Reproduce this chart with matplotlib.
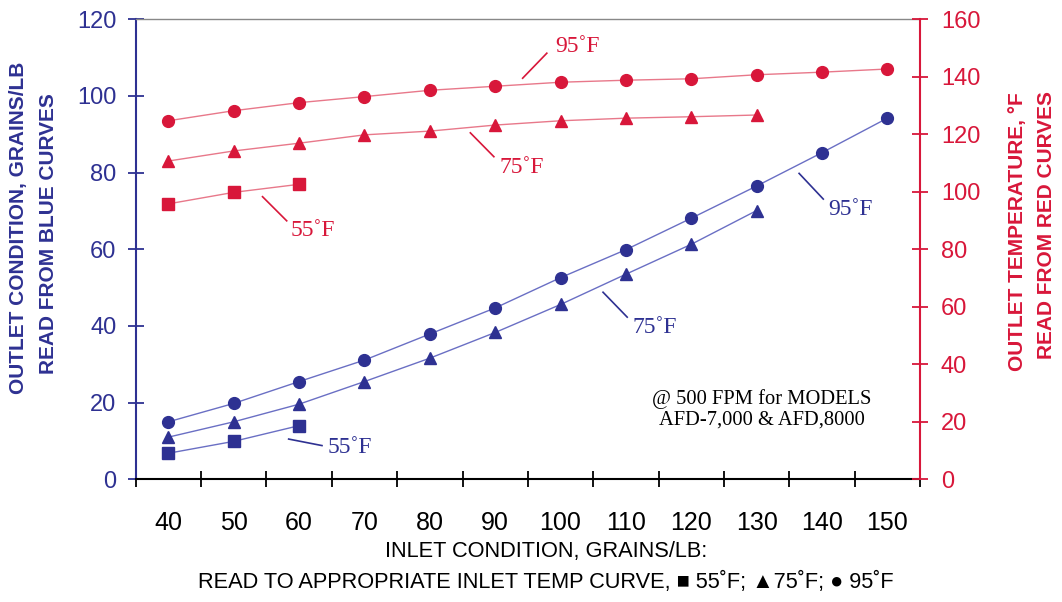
import numpy as np
import matplotlib
matplotlib.use('Agg')
import matplotlib.pyplot as plt

# inlet condition, grains/lb
inlet = [40, 50, 60, 70, 80, 90, 100, 110, 120, 130, 140, 150]

# outlet condition, grains/lb (blue curves, left axis)
grains_95 = [15.0, 19.8, 25.5, 31.1, 37.9, 44.7, 52.6, 59.9, 68.1, 76.5, 85.2, 94.2]
grains_75 = [11.0, 15.0, 19.6, 25.5, 31.6, 38.3, 45.6, 53.5, 61.3, 70.1]
grains_55 = [6.8, 9.9, 14.0]

# outlet temperature, F (red curves, right axis)
temp_95 = [124.7, 128.2, 131.0, 133.1, 135.3, 136.7, 138.1, 138.8, 139.3, 140.7, 141.6, 142.7]
temp_75 = [110.7, 114.2, 116.9, 119.8, 121.1, 123.2, 124.7, 125.6, 126.1, 126.7]
temp_55 = [95.8, 99.8, 102.6]

BLUE = '#2e3192'
BLUE_LN = '#6a6fc4'
RED = '#d8173a'
RED_LN = '#e8788a'
SANS = ['Liberation Sans', 'DejaVu Sans']
SERIF = ['Liberation Serif', 'DejaVu Serif']

fig = plt.figure(figsize=(10.62, 6.02), dpi=100)
ax = fig.add_axes([0.1278, 0.2038, 0.8663 - 0.1278, 0.968 - 0.2038])
ax2 = ax.twinx()

ms = 8.5
# blue curves
ax.plot(inlet, grains_95, color=BLUE_LN, lw=1.0, zorder=2)
ax.plot(inlet, grains_95, 'o', color=BLUE, ms=ms, zorder=3)
ax.plot(inlet[:len(grains_75)], grains_75, color=BLUE_LN, lw=1.0, zorder=2)
ax.plot(inlet[:len(grains_75)], grains_75, '^', color=BLUE, ms=ms, zorder=3)
ax.plot(inlet[:len(grains_55)], grains_55, color=BLUE_LN, lw=1.0, zorder=2)
ax.plot(inlet[:len(grains_55)], grains_55, 's', color=BLUE, ms=ms, zorder=3)

# red curves
ax2.plot(inlet, temp_95, color=RED_LN, lw=1.0, zorder=2)
ax2.plot(inlet, temp_95, 'o', color=RED, ms=ms, zorder=3)
ax2.plot(inlet[:len(temp_75)], temp_75, color=RED_LN, lw=1.0, zorder=2)
ax2.plot(inlet[:len(temp_75)], temp_75, '^', color=RED, ms=ms, zorder=3)
ax2.plot(inlet[:len(temp_55)], temp_55, color=RED_LN, lw=1.0, zorder=2)
ax2.plot(inlet[:len(temp_55)], temp_55, 's', color=RED, ms=ms, zorder=3)

ax.set_xlim(35, 155)
ax.set_ylim(0, 120)
ax2.set_ylim(0, 160)

# axes / spines
ax.spines['right'].set_visible(False)
ax.spines['left'].set_color(BLUE)
ax.spines['left'].set_linewidth(1.5)
ax.spines['bottom'].set_color('black')
ax.spines['bottom'].set_linewidth(1.5)
ax.spines['top'].set_color('#888888')
ax.spines['top'].set_linewidth(1.0)
for s in ['left', 'top', 'bottom']:
    ax2.spines[s].set_visible(False)
ax2.spines['right'].set_color(RED)
ax2.spines['right'].set_linewidth(1.5)

ax.set_xticks(np.arange(35, 156, 10))
ax.set_xticklabels([])
ax.set_xticks(inlet, minor=True)
ax.set_xticklabels([str(v) for v in inlet], minor=True, fontsize=18, family=SANS)
ax.tick_params(axis='x', which='major', direction='inout', length=12, width=1.3, color='black')
ax.tick_params(axis='x', which='minor', length=0, pad=23)

ax.set_yticks(np.arange(0, 121, 20))
ax.tick_params(axis='y', direction='inout', length=12, width=1.3, color=BLUE, labelcolor=BLUE, labelsize=17, pad=8)
ax2.set_yticks(np.arange(0, 161, 20))
ax2.tick_params(axis='y', direction='inout', length=12, width=1.3, color=RED, labelcolor=RED, labelsize=17, pad=9)
for lab in ax.get_yticklabels() + ax2.get_yticklabels():
    lab.set_family(SANS)

# curve labels with leader lines
def tag(a, x0, y0, x1, y1, tx, ty, txt, col):
    a.plot([x0, x1], [y0, y1], color=col, lw=1.2, zorder=2)
    a.text(tx, ty, txt, color=col, fontsize=17, family=SERIF, va='center', ha='left')

tag(ax2, 94.2, 139.5, 97.9, 148.2, 99.2, 150.7, '95˚F', RED)
tag(ax2, 86.2, 120.5, 89.8, 112.2, 90.7, 108.3, '75˚F', RED)
tag(ax2, 54.4, 98.3, 58.1, 89.9, 58.7, 86.4, '55˚F', RED)
tag(ax, 136.5, 79.8, 140.2, 73.1, 141.0, 70.3, '95˚F', BLUE)
tag(ax, 106.5, 48.8, 110.2, 42.3, 111.0, 39.5, '75˚F', BLUE)
tag(ax, 58.4, 10.5, 63.5, 8.8, 64.3, 8.2, '55˚F', BLUE)

ax.text(0.7986, 0.153, '@ 500 FPM for MODELS\nAFD-7,000 & AFD,8000', transform=ax.transAxes,
        fontsize=14.8, family=SERIF, ha='center', va='center', linespacing=1.1, color='black')

# axis titles
fig.text(19 / 1062, 1 - 228 / 602, 'OUTLET CONDITION, GRAINS/LB', rotation=90, color=BLUE,
         fontsize=15, fontweight='bold', family=SANS, ha='center', va='center')
fig.text(49 / 1062, 1 - 234 / 602, 'READ FROM BLUE CURVES', rotation=90, color=BLUE,
         fontsize=15, fontweight='bold', family=SANS, ha='center', va='center')
fig.text(1017 / 1062, 1 - 232 / 602, 'OUTLET TEMPERATURE, °F', rotation=90, color=RED,
         fontsize=15, fontweight='bold', family=SANS, ha='center', va='center')
fig.text(1047 / 1062, 1 - 225 / 602, 'READ FROM RED CURVES', rotation=90, color=RED,
         fontsize=15, fontweight='bold', family=SANS, ha='center', va='center')

fig.text(546 / 1062, 1 - 552 / 602, 'INLET CONDITION, GRAINS/LB:', color='black',
         fontsize=15.7, family=SANS, ha='center', va='center')
fig.text(546 / 1062, 1 - 582 / 602, 'READ TO APPROPRIATE INLET TEMP CURVE, ■ 55˚F; ▲75˚F; ● 95˚F',
         color='black', fontsize=15.7, family=SANS, ha='center', va='center')

fig.savefig('out.png', dpi=100)
